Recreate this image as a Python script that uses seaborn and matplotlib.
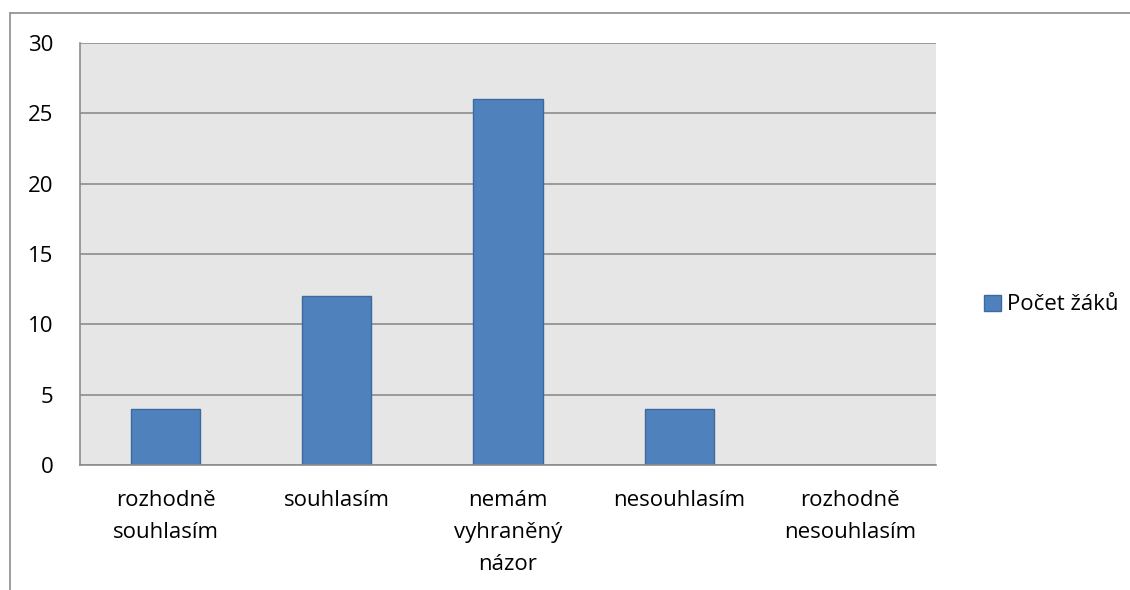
import matplotlib
matplotlib.use("Agg")
import matplotlib.pyplot as plt
import seaborn as sns
import pandas as pd
from matplotlib.lines import Line2D
from matplotlib.patches import Patch

# Data
categories = ["rozhodně\nsouhlasím", "souhlasím", "nemám\nvyhraněný\nnázor",
              "nesouhlasím", "rozhodně\nnesouhlasím"]
counts = [4, 12, 26, 4, 0]
series_name = "Počet žáků"
y_ticks = [0, 5, 10, 15, 20, 25, 30]

df = pd.DataFrame({"Odpověď": categories, "Počet": counts})

sns.set_style("white")
plt.rcParams["font.family"] = ["Open Sans", "DejaVu Sans"]
plt.rcParams["text.color"] = "black"
plt.rcParams["xtick.color"] = "black"
plt.rcParams["ytick.color"] = "black"

fig = plt.figure(figsize=(11.3, 5.9), dpi=100)
ax = fig.add_axes([80 / 1130, 1 - 465 / 590, (936 - 80) / 1130, (465 - 43) / 590])

sns.barplot(data=df, x="Odpověď", y="Počet", ax=ax, color="#4F81BD",
            width=0.405, edgecolor="#3D6A9E", linewidth=1.0, saturation=1)

ax.set_facecolor("#E6E6E6")
ax.set_ylim(0, 30)
ax.set_xlim(-0.5, len(categories) - 0.5)
ax.set_yticks(y_ticks)
ax.yaxis.grid(True, color="#8C8C8C", linewidth=1.2)
ax.set_axisbelow(True)
ax.set_xlabel("")
ax.set_ylabel("")

for s in ["top", "right"]:
    ax.spines[s].set_visible(False)
for s in ["left", "bottom"]:
    ax.spines[s].set_color("#8C8C8C")
    ax.spines[s].set_linewidth(1.2)

ax.tick_params(axis="y", length=6, width=1.2, color="#8C8C8C", labelcolor="black",
               labelsize=16, pad=13)
ax.tick_params(axis="x", which="major", length=0, labelsize=16, labelcolor="black", pad=18)
ax.set_xticks([i - 0.5 for i in range(len(categories) + 1)], minor=True)
ax.tick_params(axis="x", which="minor", length=5, width=1.2, color="#8C8C8C")
for lbl in ax.get_xticklabels():
    lbl.set_linespacing(1.68)

handles = [Patch(facecolor="#4F81BD", edgecolor="#3D6A9E", label=series_name)]
fig.legend(handles=handles, loc="center left", bbox_to_anchor=(975 / 1130, 1 - 305 / 590),
           frameon=False, fontsize=16, handlelength=0.75, handleheight=0.75,
           handletextpad=0.3, borderaxespad=0, labelcolor="black")

# outer chart border (only top and left visible in the crop)
fig.add_artist(Line2D([10 / 1130, 1], [1 - 13 / 590, 1 - 13 / 590],
                      transform=fig.transFigure, color="#8C8C8C", linewidth=1.2))
fig.add_artist(Line2D([10 / 1130, 10 / 1130], [0, 1 - 13 / 590],
                      transform=fig.transFigure, color="#8C8C8C", linewidth=1.2))

fig.savefig("out.png", dpi=100, facecolor="white")
